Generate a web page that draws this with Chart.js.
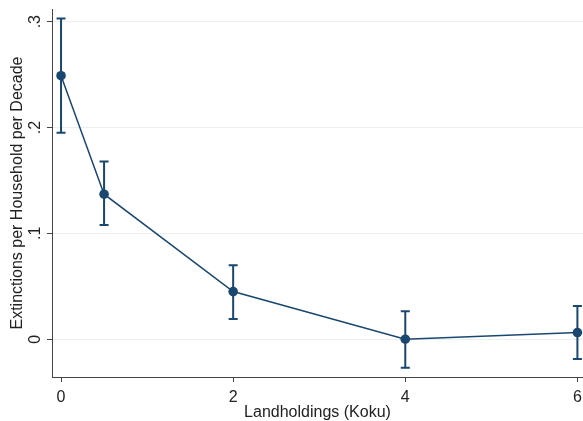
<!DOCTYPE html>
<html>
<head>
<meta charset="utf-8">
<script src="https://cdn.jsdelivr.net/npm/chart.js@4"></script>
<style>
  html, body { margin: 0; padding: 0; background: #fff; }
  canvas { display: block; }
</style>
</head>
<body>
<canvas id="chart" width="583" height="421"></canvas>
<script>
// landholdings vs extinction rate, with 95% CI bars
const landholdings = [0, 0.5, 2, 4, 6];
const rates = [0.249, 0.137, 0.045, 0.000, 0.0063];
const ciLow = [0.195, 0.108, 0.019, -0.027, -0.0186];
const ciHigh = [0.303, 0.168, 0.070, 0.0265, 0.0315];
const xTicks = [0, 2, 4, 6];
const yTicks = [0, 0.1, 0.2, 0.3];
const yTickLabels = ["0", ".1", ".2", ".3"];

const navy = "#1a476f";
const fontFamily = "'Liberation Sans', Arial, sans-serif";

const points = landholdings.map(function(x, i) { return { x: x, y: rates[i] }; });

// caps + whiskers, drawn under the markers
const errorBars = {
    id: "errorBars",
    beforeDatasetsDraw(chart) {
        const ctx = chart.ctx, xs = chart.scales.x, ys = chart.scales.y;
        ctx.save();
        ctx.strokeStyle = navy;
        ctx.lineWidth = 2;
        landholdings.forEach(function(x, i) {
            const px = xs.getPixelForValue(x);
            const top = ys.getPixelForValue(ciHigh[i]);
            const bot = ys.getPixelForValue(ciLow[i]);
            ctx.beginPath();
            ctx.moveTo(px, top); ctx.lineTo(px, bot);
            ctx.moveTo(px - 4.5, top); ctx.lineTo(px + 4.5, top);
            ctx.moveTo(px - 4.5, bot); ctx.lineTo(px + 4.5, bot);
            ctx.stroke();
        });
        ctx.restore();
    }
};

// stata-style vertical y tick labels
const yLabels = {
    id: "yLabels",
    afterDraw(chart) {
        const ctx = chart.ctx, ys = chart.scales.y;
        ctx.save();
        ctx.fillStyle = "#222";
        ctx.font = "16px " + fontFamily;
        ctx.textAlign = "center";
        ctx.textBaseline = "middle";
        yTicks.forEach(function(v, i) {
            ctx.save();
            ctx.translate(36, ys.getPixelForValue(v));
            ctx.rotate(-Math.PI / 2);
            ctx.fillText(yTickLabels[i], 0, 0);
            ctx.restore();
        });
        ctx.restore();
    }
};

new Chart(document.getElementById("chart"), {
    type: "scatter",
    data: {
        datasets: [{
            data: points,
            showLine: true,
            borderColor: navy,
            borderWidth: 1.5,
            backgroundColor: navy,
            pointRadius: 4.8,
            pointBorderWidth: 0,
            clip: false
        }]
    },
    options: {
        responsive: false,
        devicePixelRatio: 1,
        animation: false,
        layout: { autoPadding: false, padding: { top: 9, right: 0, left: 0, bottom: 0 } },
        plugins: { legend: { display: false }, tooltip: { enabled: false } },
        scales: {
            x: {
                type: "linear",
                min: -0.105,
                max: 6.065,
                afterBuildTicks: function(s) { s.ticks = xTicks.map(function(v) { return { value: v }; }); },
                afterFit: function(s) { s.height = 44; s.paddingLeft = 0; s.paddingRight = 0; },
                grid: { drawOnChartArea: false, tickLength: 5, tickColor: "#444", tickWidth: 1 },
                border: { color: "#444", width: 1 },
                ticks: { color: "#222", padding: 6, maxRotation: 0, font: { size: 16, family: fontFamily } },
                title: { display: true, text: "Landholdings (Koku)", color: "#222", padding: { top: 0, bottom: -1 }, font: { size: 16, family: fontFamily } }
            },
            y: {
                type: "linear",
                min: -0.0357,
                max: 0.312,
                afterBuildTicks: function(s) { s.ticks = yTicks.map(function(v) { return { value: v }; }); },
                afterFit: function(s) { s.width = 52; },
                grid: { color: "#eaf0f2", lineWidth: 1, tickLength: 5, tickColor: "#444", tickWidth: 1 },
                border: { color: "#444", width: 1 },
                ticks: { display: false },
                title: { display: true, text: "Extinctions per Household per Decade", color: "#222", padding: { top: 8, bottom: 0 }, font: { size: 16, family: fontFamily } }
            }
        }
    },
    plugins: [errorBars, yLabels]
});
</script>
</body>
</html>
